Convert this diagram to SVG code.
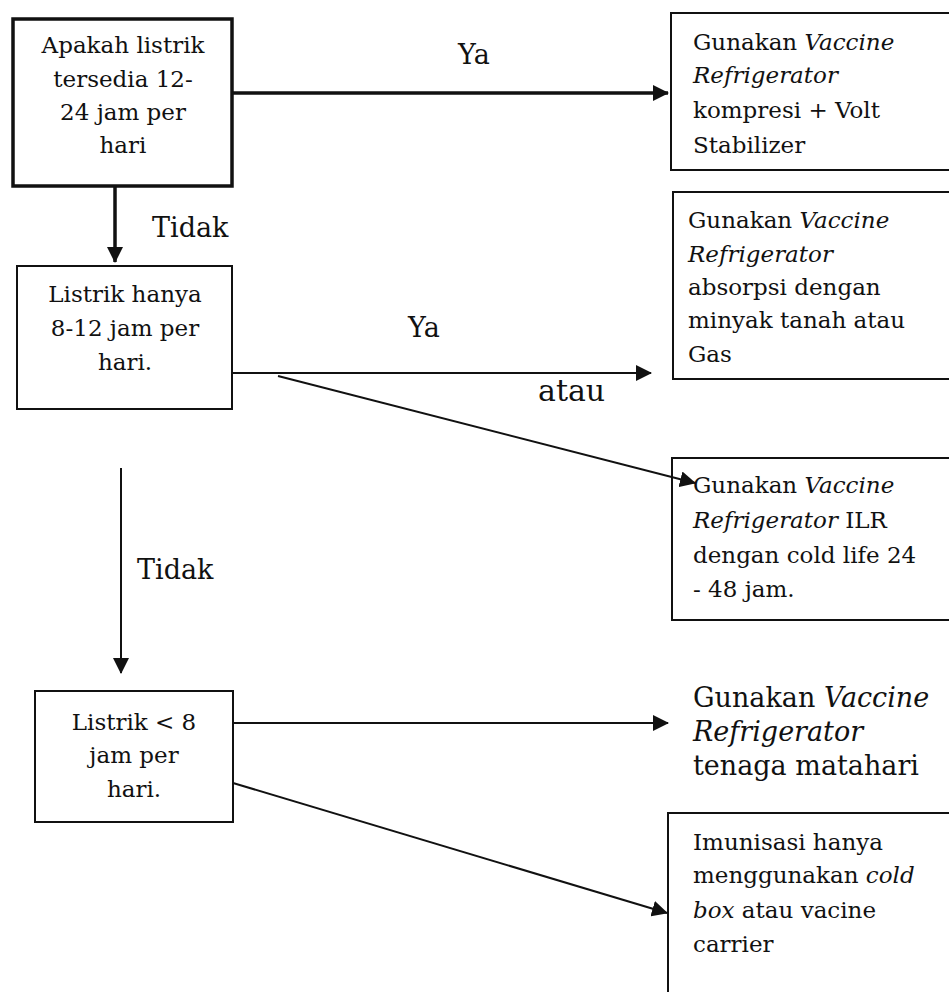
<svg xmlns="http://www.w3.org/2000/svg" width="949" height="992" viewBox="0 0 949 992">
  <style>
    text { font-family: "DejaVu Serif", "Liberation Serif", serif; font-size: 23px; fill: #111; }
    .c { text-anchor: middle; }
    .big { font-size: 27px; }
    .lbl { font-size: 27px; }
    .lbl-lg { font-size: 30px; }
    .it { font-style: italic; }
    .box { fill: #fff; stroke: #111; stroke-width: 2; }
    .thick { stroke-width: 3.5; }
    .edge { fill: none; stroke: #111; stroke-width: 2; marker-end: url(#arrow); }
    .edge.thick { stroke-width: 3.5; }
  </style>
  <defs>
    <marker id="arrow" viewBox="0 0 16 16" refX="15" refY="8" markerWidth="16" markerHeight="16" markerUnits="userSpaceOnUse" orient="auto">
      <path d="M0,0 L16,8 L0,16 z" fill="#111"/>
    </marker>
  </defs>
  <rect width="949" height="992" fill="#fff"/>

  <g id="q1">
    <rect class="box thick" x="13" y="19" width="219" height="167"/>
    <text class="c" x="123" y="53">Apakah listrik</text>
    <text class="c" x="123" y="87">tersedia 12-</text>
    <text class="c" x="123" y="120">24 jam per</text>
    <text class="c" x="123" y="153">hari</text>
  </g>

  <g id="r1">
    <rect class="box" x="671" y="13" width="300" height="157"/>
    <text x="693" y="50">Gunakan <tspan class="it">Vaccine</tspan></text>
    <text x="693" y="83" class="it">Refrigerator</text>
    <text x="693" y="118">kompresi + Volt</text>
    <text x="693" y="153">Stabilizer</text>
  </g>

  <g id="q2">
    <rect class="box" x="17" y="266" width="215" height="143"/>
    <text class="c" x="125" y="302">Listrik hanya</text>
    <text class="c" x="125" y="336">8-12 jam per</text>
    <text class="c" x="125" y="370">hari.</text>
  </g>

  <g id="r2">
    <rect class="box" x="673" y="192" width="300" height="187"/>
    <text x="688" y="228">Gunakan <tspan class="it">Vaccine</tspan></text>
    <text x="688" y="262" class="it">Refrigerator</text>
    <text x="688" y="295">absorpsi dengan</text>
    <text x="688" y="328">minyak tanah atau</text>
    <text x="688" y="362">Gas</text>
  </g>

  <g id="r3">
    <rect class="box" x="672" y="458" width="300" height="162"/>
    <text x="693" y="493">Gunakan <tspan class="it">Vaccine</tspan></text>
    <text x="693" y="528"><tspan class="it">Refrigerator</tspan> ILR</text>
    <text x="693" y="563">dengan cold life 24</text>
    <text x="693" y="597">- 48 jam.</text>
  </g>

  <g id="q3">
    <rect class="box" x="35" y="691" width="198" height="131"/>
    <text class="c" x="134" y="730">Listrik &lt; 8</text>
    <text class="c" x="134" y="763">jam per</text>
    <text class="c" x="134" y="797">hari.</text>
  </g>

  <g id="r4">
    <text x="693" y="707" class="big">Gunakan <tspan class="it">Vaccine</tspan></text>
    <text x="693" y="741" class="big it">Refrigerator</text>
    <text x="693" y="775" class="big">tenaga matahari</text>
  </g>

  <g id="r5">
    <rect class="box" x="668" y="813" width="300" height="200"/>
    <text x="693" y="850">Imunisasi hanya</text>
    <text x="693" y="883">menggunakan <tspan class="it">cold</tspan></text>
    <text x="693" y="918"><tspan class="it">box</tspan> atau vacine</text>
    <text x="693" y="952">carrier</text>
  </g>

  <!-- connectors, drawn over the boxes so arrowheads stay visible -->
  <g id="connectors">
    <line class="edge thick" x1="232" y1="93" x2="668" y2="93"/>
    <line class="edge thick" x1="115" y1="186" x2="115" y2="262"/>
    <line class="edge" x1="232" y1="373" x2="651" y2="373"/>
    <line class="edge" x1="278" y1="376" x2="695" y2="483"/>
    <line class="edge" x1="121" y1="468" x2="121" y2="673"/>
    <line class="edge" x1="233" y1="723" x2="668" y2="723"/>
    <line class="edge" x1="233" y1="783" x2="667" y2="913"/>
  </g>

  <!-- connector labels -->
  <g id="labels">
    <text x="458" y="64" class="lbl">Ya</text>
    <text x="152" y="237" class="lbl">Tidak</text>
    <text x="408" y="337" class="lbl">Ya</text>
    <text x="538" y="401" class="lbl-lg">atau</text>
    <text x="137" y="579" class="lbl">Tidak</text>
  </g>
</svg>
